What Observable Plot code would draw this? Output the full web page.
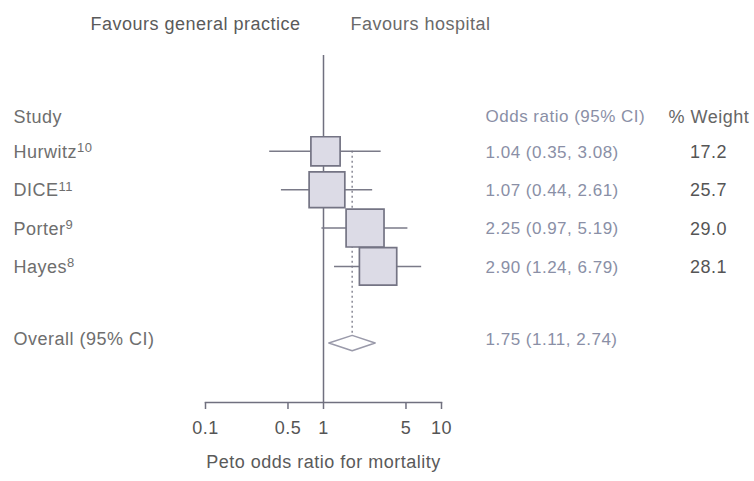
<!DOCTYPE html>
<html>
<head>
<meta charset="utf-8">
<script src="https://cdn.jsdelivr.net/npm/d3@7"></script>
<script src="https://cdn.jsdelivr.net/npm/@observablehq/plot@0.6"></script>
<style>
  html, body { margin: 0; padding: 0; background: #fff; }
  #chart svg { font-family: "Liberation Sans", Arial, sans-serif; letter-spacing: 0.5px; }
</style>
</head>
<body>
<div id="chart"></div>
<script>
// ---- data ----
const studies = ["Hurwitz", "DICE", "Porter", "Hayes"];
const refs = ["10", "11", "9", "8"];
const oddsRatio = [1.04, 1.07, 2.25, 2.90];
const ciLow = [0.35, 0.44, 0.97, 1.24];
const ciHigh = [3.08, 2.61, 5.19, 6.79];
const weight = [17.2, 25.7, 29.0, 28.1];
const overallLabel = "Overall (95% CI)";
const overallOR = 1.75;
const overallLow = 1.11;
const overallHigh = 2.74;
const xTicks = [0.1, 0.5, 1, 5, 10];
const headers = ["Study", "Odds ratio (95% CI)", "% Weight"];
const favours = ["Favours general practice", "Favours hospital"];
const xLabel = "Peto odds ratio for mortality";

// ---- derived table ----
const f2 = d3.format(".2f"), f1 = d3.format(".1f");
const rows = studies.map((name, i) => ({
  name, ref: refs[i], or: oddsRatio[i], lo: ciLow[i], hi: ciHigh[i], w: weight[i], row: i + 1,
  orText: `${f2(oddsRatio[i])} (${f2(ciLow[i])}, ${f2(ciHigh[i])})`,
  wText: f1(weight[i])
}));
const overallRow = studies.length + 2;
const overallText = `${f2(overallOR)} (${f2(overallLow)}, ${f2(overallHigh)})`;
const h = 0.2;
const diamond = [
  {x: overallLow, y: overallRow}, {x: overallOR, y: overallRow - h},
  {x: overallHigh, y: overallRow}, {x: overallOR, y: overallRow + h},
  {x: overallLow, y: overallRow}
];

const lineColor = "#70707f";
const textColor = "#6e6e6e";
const orColor = "#8a8fa6";

const plot = Plot.plot({
  width: 754,
  height: 481,
  marginTop: 55,
  marginBottom: 79,
  marginLeft: 205,
  marginRight: 313,
  style: {fontSize: "18px", color: textColor, background: "#fff"},
  x: {type: "log", domain: [0.1, 10]},
  y: {domain: [-1.5, 7.55], reverse: true, axis: null},
  r: {type: "sqrt", domain: [0, d3.max(weight)], range: [0, 21.4]},
  marks: [
    Plot.frame({anchor: "bottom", stroke: lineColor, strokeWidth: 1.5}),
    Plot.axisX({ticks: xTicks, tickFormat: d => String(d), tickSize: 7, tickPadding: 12,
                stroke: lineColor, strokeWidth: 1.5, fill: "#555", fontSize: 18, label: null}),
    Plot.ruleX([1], {stroke: lineColor, strokeWidth: 1.5}),
    Plot.ruleX([overallOR], {y1: rows[0].row, y2: overallRow, stroke: "#8a8a96", strokeDasharray: "2,3", strokeWidth: 1.5}),
    Plot.ruleY(rows, {y: "row", x1: "lo", x2: "hi", stroke: "#7a7a88", strokeWidth: 1.5}),
    Plot.dot(rows, {x: "or", y: "row", r: "w", symbol: "square", fill: "#dcdbe6", stroke: "#747484", strokeWidth: 1.7}),
    Plot.line(diamond, {x: "x", y: "y", fill: "#fff", stroke: "#9a9aaa", strokeWidth: 1.5}),
    // left labels
    Plot.text(rows, {text: "name", y: "row", frameAnchor: "left", dx: -192, dy: 1, textAnchor: "start", fill: textColor}),
    Plot.text([overallLabel], {y: [overallRow], frameAnchor: "left", dx: -192, dy: -4, textAnchor: "start", fill: textColor}),
    // odds ratio column
    Plot.text(rows, {text: "orText", y: "row", frameAnchor: "right", dx: 44, dy: 1, textAnchor: "start", fill: orColor, fontSize: 17}),
    Plot.text([overallText], {y: [overallRow], frameAnchor: "right", dx: 44, dy: -4, textAnchor: "start", fill: orColor, fontSize: 17}),
    // weight column
    Plot.text(rows, {text: "wText", y: "row", frameAnchor: "right", dx: 267, dy: 1, textAnchor: "middle", fill: "#555"}),
    // headers
    Plot.text([headers[0]], {y: [0], frameAnchor: "left", dx: -192, dy: 4, textAnchor: "start", fill: textColor}),
    Plot.text([headers[1]], {y: [0], frameAnchor: "right", dx: 44, dy: 4, textAnchor: "start", fill: orColor, fontSize: 17}),
    Plot.text([headers[2]], {y: [0], frameAnchor: "right", dx: 227, dy: 4, textAnchor: "start", fill: "#666"}),
    // favours
    Plot.text([favours[0]], {x: [1], frameAnchor: "top", dx: -23, dy: -38, textAnchor: "end", fill: "#5a5a5a"}),
    Plot.text([favours[1]], {x: [1], frameAnchor: "top", dx: 27, dy: -38, textAnchor: "start", fill: "#6a6a6a"}),
    // x label
    Plot.text([xLabel], {frameAnchor: "bottom", dy: 65, fill: "#5a5a5a"})
  ]
});

// superscript references
d3.select(plot).selectAll("text").each(function() {
  const i = studies.indexOf(this.textContent);
  if (i >= 0) {
    d3.select(this).append("tspan").attr("dy", "-0.45em").attr("font-size", "13px").text(refs[i]);
  }
});

document.getElementById("chart").appendChild(plot);
</script>
</body>
</html>
